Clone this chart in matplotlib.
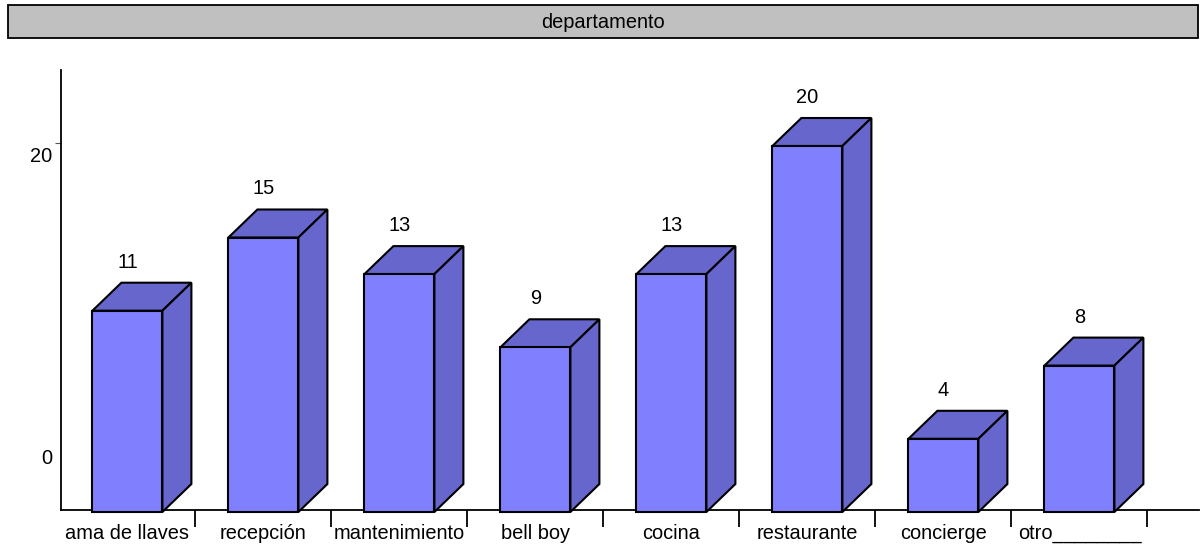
import matplotlib
matplotlib.use("Agg")
import matplotlib.pyplot as plt
from matplotlib.patches import Polygon, Rectangle
from matplotlib.transforms import ScaledTranslation

plt.rcParams['font.family'] = ['Liberation Sans', 'DejaVu Sans']

title = "departamento"
categories = ["ama de llaves", "recepción", "mantenimiento", "bell boy",
              "cocina", "restaurante", "concierge", "otro________"]
values = [11, 15, 13, 9, 13, 20, 4, 8]

W, H = 1201, 560
FS = 14.4
FRONT = "#8080FF"
SHADE = "#6666CC"
EDGE_LW = 1.5

fig = plt.figure(figsize=(W / 100, H / 100), dpi=100, facecolor="white")

# axes area in pixels: x 61..1199, y 70..512 (from the top)
left, right, top, bottom = 61, 1199, 70, 512
ax = fig.add_axes([left / W, 1 - bottom / H, (right - left) / W, (bottom - top) / H])
px_x = 136.0            # pixels per category
px_y = 18.3             # pixels per value unit
center0 = 127.4
ax.set_xlim((left - center0) / px_x, (right - center0) / px_x)
ax.set_ylim(0, (bottom - top) / px_y)
ax.patch.set_alpha(0)

bar_w = 70 / px_x
dx = 29 / px_x
dy = 28 / px_y
xs = list(range(len(values)))

ax.bar(xs, values, width=bar_w, color=FRONT, edgecolor="black",
       linewidth=EDGE_LW, zorder=4, clip_on=False)
for x, v in zip(xs, values):
    x0, x1 = x - bar_w / 2, x + bar_w / 2
    ax.add_patch(Polygon([(x0, v), (x0 + dx, v + dy), (x1 + dx, v + dy), (x1, v)],
                         closed=True, facecolor=SHADE, edgecolor="black",
                         linewidth=EDGE_LW, zorder=3, clip_on=False, joinstyle="miter"))
    ax.add_patch(Polygon([(x1, 0), (x1 + dx, dy), (x1 + dx, v + dy), (x1, v)],
                         closed=True, facecolor=SHADE, edgecolor="black",
                         linewidth=EDGE_LW, zorder=3, clip_on=False, joinstyle="miter"))
    ax.annotate(str(v), (x, v), xytext=(0, 48.5 * 0.72), textcoords="offset points",
                ha="center", va="center", fontsize=FS, color="black")

# axis lines
for s in ("top", "right"):
    ax.spines[s].set_visible(False)
axis_y = 2 / px_y
ax.spines["bottom"].set_position(("data", axis_y))
ax.spines["bottom"].set_linewidth(1.3)
ax.spines["bottom"].set_zorder(2)
ax.spines["left"].set_linewidth(1.3)
ax.spines["left"].set_bounds(axis_y, (bottom - top) / px_y)
ax.spines["left"].set_zorder(2)

# x: separator ticks between categories, labels centred under the bars
ax.set_xticks([x + 0.5 for x in xs])
ax.set_xticklabels([])
ax.tick_params(axis="x", which="major", length=12, width=1.3, direction="out", color="black")
ax.set_xticks(xs, minor=True)
ax.set_xticklabels(categories, minor=True, fontsize=FS)
ax.tick_params(axis="x", which="minor", length=0, pad=10)

# y: labels sit off their nominal positions in the original
ax.set_yticks([0, 20])
ax.set_yticklabels(["0", "20"], fontsize=FS)
ax.tick_params(axis="y", which="major", length=0, pad=6.2)
offsets = {"0": 55, "20": -9}
for lab in ax.get_yticklabels():
    lab.set_transform(lab.get_transform() +
                      ScaledTranslation(0, offsets[lab.get_text()] / 100, fig.dpi_scale_trans))
ax.set_yticks([20.16], minor=True)
ax.tick_params(axis="y", which="minor", length=4.5, width=0.8, color="#555555")

# title band
fig.add_artist(Rectangle((8 / W, 1 - 38 / H), 1190 / W, 33 / H, transform=fig.transFigure,
                         facecolor="#C0C0C0", edgecolor="black", linewidth=1.3))
fig.text(603 / W, 1 - 22 / H, title, ha="center", va="center", fontsize=FS, color="black")

fig.savefig("out.png", dpi=100, facecolor="white")
